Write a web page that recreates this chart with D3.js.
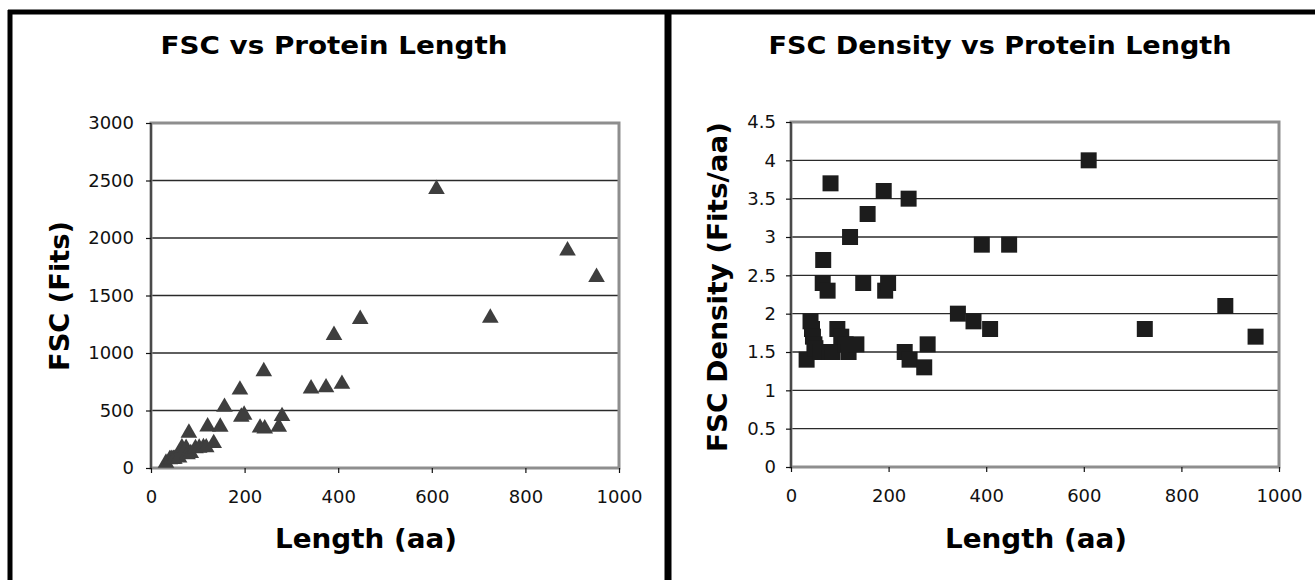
<!DOCTYPE html>
<html>
<head>
<meta charset="utf-8">
<script src="https://cdn.jsdelivr.net/npm/d3@7"></script>
<style>
body { margin: 0; background: #fff; }
svg text { font-family: "DejaVu Sans", Verdana, sans-serif; }
</style>
</head>
<body>
<div id="chart"></div>
<script>

// protein lengths (aa), shared by both panels
var lengths = [32, 40, 43, 45, 48, 50, 60, 65, 66, 75, 78, 81, 85, 95, 103, 112, 118, 121, 134, 148,
               157, 190, 193, 199, 233, 241, 243, 273, 280, 342, 374, 391, 408, 447, 610, 725, 890, 952];

// FSC (Fits), left panel
var fscValues = [45, 75, 78, 76, 78, 78, 90, 155, 178, 172, 118, 305, 128, 170, 175, 180, 178, 360, 215, 358,
                 530, 680, 445, 462, 350, 840, 342, 358, 450, 690, 700, 1155, 730, 1295, 2425, 1305, 1890, 1660];

// FSC density (Fits/aa), right panel
var densityValues = [1.4, 1.9, 1.8, 1.7, 1.6, 1.55, 1.5, 2.4, 2.7, 2.3, 1.5, 3.7, 1.5, 1.8, 1.7, 1.6, 1.5, 3.0, 1.6, 2.4,
                     3.3, 3.6, 2.3, 2.4, 1.5, 3.5, 1.4, 1.3, 1.6, 2.0, 1.9, 2.9, 1.8, 2.9, 4.0, 1.8, 2.1, 1.7];

var lengthTicks = [0, 200, 400, 600, 800, 1000];
var fscTicks = [0, 500, 1000, 1500, 2000, 2500, 3000];
var densityTicks = [0, 0.5, 1, 1.5, 2, 2.5, 3, 3.5, 4, 4.5];


var svg = d3.select("#chart")
    .append("svg")
    .attr("width", 1315)
    .attr("height", 580);

svg.append("rect")
    .attr("width", 1315)
    .attr("height", 580)
    .style("fill", "white");


ScatterPanel = function(svg, values, cfg){

    this.svg = svg;
    this.values = values;
    this.cfg = cfg;

    this._init();

};

ScatterPanel.prototype._init = function(){

    this._build_scales();
    this._draw_grid();
    this._draw_frame();
    this._draw_axes();
    this._draw_points();
    this._draw_titles();

};

ScatterPanel.prototype._build_scales = function(){

    var c = this.cfg;

    this.x = d3.scaleLinear()
        .domain([0, 1000])
        .range([c.left, c.right]);

    this.y = d3.scaleLinear()
        .domain([0, c.yTicks[c.yTicks.length - 1]])
        .range([c.bottom, c.top]);

};

ScatterPanel.prototype._draw_grid = function(){

    var self = this;
    var c = this.cfg;

    this.svg.append("g")
        .selectAll("line")
        .data(c.yTicks.slice(1, -1))
        .enter()
        .append("line")
        .attr("x1", c.left)
        .attr("x2", c.right)
        .attr("y1", function(d){ return self.y(d); })
        .attr("y2", function(d){ return self.y(d); })
        .style("stroke", "#2a2a2a")
        .style("stroke-width", 1.3);

};

ScatterPanel.prototype._draw_frame = function(){

    var c = this.cfg;

    this.svg.append("rect")
        .attr("x", c.left)
        .attr("y", c.top)
        .attr("width", c.right - c.left)
        .attr("height", c.bottom - c.top)
        .style("fill", "none")
        .style("stroke", "#8e8e8e")
        .style("stroke-width", 3);

    this.svg.append("line")
        .attr("x1", c.left)
        .attr("x2", c.left)
        .attr("y1", c.top)
        .attr("y2", c.bottom)
        .style("stroke", "#4a4a4a")
        .style("stroke-width", 2);

};

ScatterPanel.prototype._draw_axes = function(){

    var c = this.cfg;

    var yAxis = this.svg.append("g")
        .attr("transform", "translate(" + c.left + ",0)")
        .call(d3.axisLeft(this.y)
            .tickValues(c.yTicks)
            .tickFormat(function(d){ return String(d); })
            .tickSize(5)
            .tickPadding(c.yPad));

    var xAxis = this.svg.append("g")
        .attr("transform", "translate(0," + c.bottom + ")")
        .call(d3.axisBottom(this.x)
            .tickValues(lengthTicks)
            .tickFormat(d3.format("d"))
            .tickSize(5)
            .tickPadding(17));

    [yAxis, xAxis].forEach(function(ax){
        ax.select(".domain").remove();
        ax.selectAll(".tick line").style("stroke", "#111").style("stroke-width", 1.2);
        ax.selectAll(".tick text")
            .style("font-family", "'DejaVu Sans', Verdana, sans-serif")
            .style("font-size", "18px")
            .style("fill", "#111");
    });

};

ScatterPanel.prototype._draw_points = function(){

    var self = this;
    var c = this.cfg;

    var sym = d3.symbol().type(c.symbol).size(c.symbolSize);

    this.svg.append("g")
        .selectAll("path")
        .data(lengths)
        .enter()
        .append("path")
        .attr("d", sym)
        .attr("transform", function(d, i){
            return "translate(" + self.x(d) + "," + self.y(self.values[i]) + ")";
        })
        .style("fill", c.color);

};

ScatterPanel.prototype._draw_titles = function(){

    var c = this.cfg;

    this.svg.append("text")
        .attr("x", c.titleX)
        .attr("y", 54)
        .attr("text-anchor", "middle")
        .attr("textLength", c.titleWidth)
        .attr("lengthAdjust", "spacingAndGlyphs")
        .style("font-size", "24px")
        .style("font-weight", "bold")
        .style("fill", "#000")
        .text(c.title);

    this.svg.append("text")
        .attr("x", c.xLabelX)
        .attr("y", 548)
        .attr("text-anchor", "middle")
        .attr("textLength", 182)
        .attr("lengthAdjust", "spacingAndGlyphs")
        .style("font-size", "27px")
        .style("font-weight", "bold")
        .style("fill", "#000")
        .text("Length (aa)");

    this.svg.append("text")
        .attr("transform", "translate(" + c.yLabelX + "," + c.yLabelY + ") rotate(-90)")
        .attr("text-anchor", "middle")
        .attr("textLength", c.yLabelWidth)
        .attr("lengthAdjust", "spacingAndGlyphs")
        .style("font-size", "27px")
        .style("font-weight", "bold")
        .style("fill", "#000")
        .text(c.yLabel);

};


// panel borders
var frame = svg.append("g").style("stroke", "#000").style("fill", "none");
frame.append("line").attr("x1", 8).attr("x2", 1315).attr("y1", 12).attr("y2", 12).style("stroke-width", 5);
frame.append("line").attr("x1", 10).attr("x2", 10).attr("y1", 10).attr("y2", 580).style("stroke-width", 5);
frame.append("line").attr("x1", 668).attr("x2", 668).attr("y1", 10).attr("y2", 580).style("stroke-width", 7);


new ScatterPanel(svg, fscValues, {
    left: 151, right: 619, top: 123, bottom: 468,
    yTicks: fscTicks,
    yPad: 12,
    symbol: d3.symbolTriangle,
    symbolSize: 120,
    color: "#3e3e3e",
    title: "FSC vs Protein Length",
    titleX: 334,
    titleWidth: 347,
    xLabelX: 366,
    yLabel: "FSC (Fits)",
    yLabelX: 69,
    yLabelY: 296,
    yLabelWidth: 150
});

new ScatterPanel(svg, densityValues, {
    left: 791, right: 1279, top: 122, bottom: 467,
    yTicks: densityTicks,
    yPad: 10,
    symbol: d3.symbolSquare,
    symbolSize: 256,
    color: "#1c1c1c",
    title: "FSC Density vs Protein Length",
    titleX: 1000,
    titleWidth: 463,
    xLabelX: 1036,
    yLabel: "FSC Density (Fits/aa)",
    yLabelX: 727,
    yLabelY: 287,
    yLabelWidth: 330
});

</script>
</body>
</html>
